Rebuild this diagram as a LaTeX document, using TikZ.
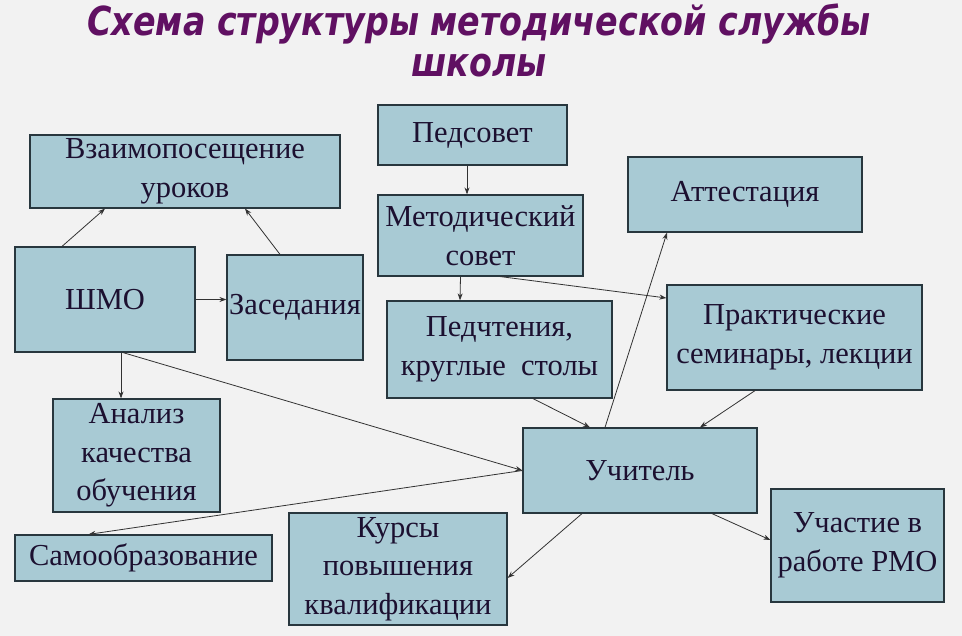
\documentclass[tikz,border=0pt]{standalone}
\usepackage{fontspec}
\setmainfont{Liberation Serif}
\newfontfamily\titlefont{DejaVu Sans}
\usetikzlibrary{arrows.meta,calc}
\definecolor{boxfill}{RGB}{168,202,212}
\definecolor{boxline}{RGB}{40,55,62}
\definecolor{txtcol}{RGB}{28,16,48}
\definecolor{titlecol}{RGB}{96,16,98}
\definecolor{bgcol}{RGB}{242,242,242}
\definecolor{arrcol}{RGB}{50,50,50}
\tikzset{
  box/.style={draw=boxline, line width=1.2pt, fill=boxfill, inner sep=0pt,
    align=center, text=txtcol, font=\fontsize{30.5}{38.5}\selectfont},
  conn/.style={draw=arrcol, line width=0.8pt, -{Stealth[length=7pt,width=5pt]}},
  ttl/.style={text=titlecol, font=\titlefont\fontsize{40}{44}\selectfont\bfseries\itshape, inner sep=0pt}
}
\begin{document}
\begin{tikzpicture}[x=1pt,y=-1pt]
\fill[bgcol] (0,0) rectangle (962,636);
\useasboundingbox (0,0) rectangle (962,636);
\node[ttl] (t1) at (479,24) {\scalebox{0.832}[1]{Схема структуры методической службы}};
\node[ttl] (t2) at (479,66) {\scalebox{0.832}[1]{школы}};

\node[box, minimum width=310pt, minimum height=73pt] (vz) at (185,171.5) {Взаимопосещение\\уроков};
\node[box, minimum width=180pt, minimum height=105pt] (shmo) at (105,299.5) {ШМО};
\node[box, minimum width=136pt, minimum height=105pt] (zas) at (295,307.5) {Заседания};
\node[box, minimum width=189pt, minimum height=60pt] (ped) at (472.5,135) {Педсовет};
\node[box, minimum width=205pt, minimum height=81pt] (met) at (480.5,235.5) {Методический\\совет};
\node[box, minimum width=225pt, minimum height=97pt] (pch) at (499.5,349.5) {Педчтения,\\круглые\ \ столы};
\node[box, minimum width=234pt, minimum height=75pt] (att) at (745,194.5) {Аттестация};
\node[box, minimum width=255pt, minimum height=105pt] (prak) at (794.5,337.5) {Практические\\семинары, лекции};
\node[box, minimum width=167pt, minimum height=113pt] (anal) at (136.5,455.5) {Анализ\\качества\\обучения};
\node[box, minimum width=234pt, minimum height=85pt] (uch) at (640,470.5) {Учитель};
\node[box, minimum width=257pt, minimum height=46pt] (samo) at (143.5,558) {Самообразование};
\node[box, minimum width=218pt, minimum height=112pt] (kurs) at (398,569) {Курсы\\повышения\\квалификации};
\node[box, minimum width=173pt, minimum height=113pt] (rmo) at (857.5,545.5) {Участие в\\работе РМО};

\draw[conn] ([xshift=-43pt]shmo.north) -- ([xshift=-80pt]vz.south);
\draw[conn] ([xshift=-15pt]zas.north) -- ([xshift=60pt]vz.south);
\draw[conn] (shmo.east) -- (shmo.east -| zas.west);
\draw[conn] ([xshift=16pt]shmo.south) -- ([xshift=-15.5pt]anal.north);
\draw[conn] ([xshift=18pt]shmo.south) -- (uch.west);
\draw[conn] (uch.west) -- ([xshift=-55pt]samo.north);
\draw[conn] ([xshift=-5.5pt]ped.south) -- ([xshift=-13.5pt]met.north);
\draw[conn] ([xshift=-20pt]met.south) -- ([xshift=-39.5pt]pch.north);
\draw[conn] ([xshift=20pt]met.south) -- ([yshift=39.5pt]prak.west);
\draw[conn] ([xshift=33.5pt]pch.south) -- ([xshift=-50pt]uch.north);
\draw[conn] ([xshift=-35pt]uch.north) -- ([xshift=-78pt]att.south);
\draw[conn] ([xshift=-39.5pt]prak.south) -- ([xshift=60pt]uch.north);
\draw[conn] ([xshift=-58pt]uch.south) -- ([yshift=-9pt]kurs.east);
\draw[conn] ([xshift=72pt]uch.south) -- ([yshift=5.5pt]rmo.west);
\end{tikzpicture}
\end{document}
